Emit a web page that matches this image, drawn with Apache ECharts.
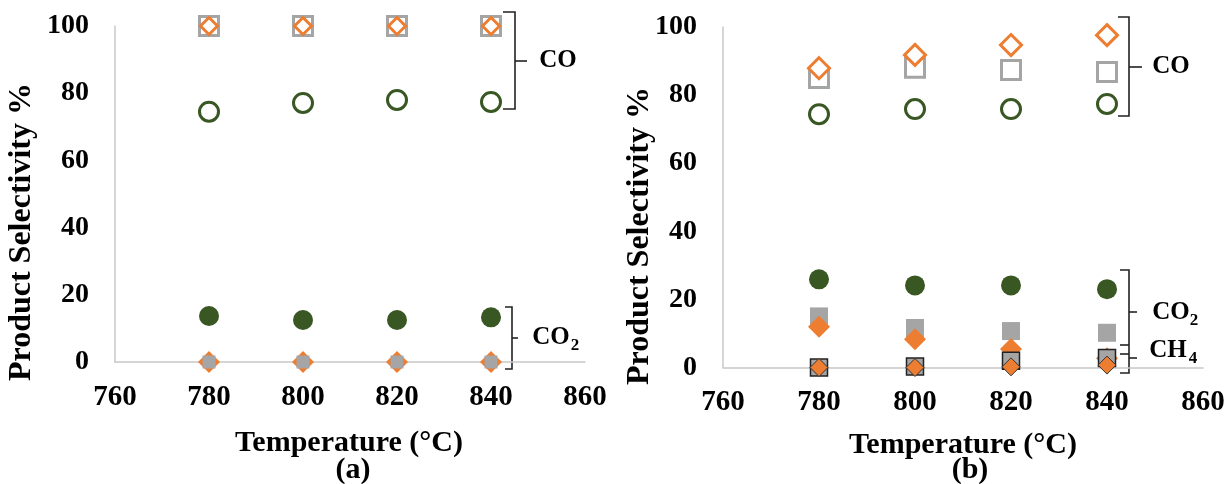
<!DOCTYPE html>
<html>
<head>
<meta charset="utf-8">
<script src="https://cdn.jsdelivr.net/npm/echarts@6/dist/echarts.min.js"></script>
<style>
html,body{margin:0;padding:0;background:#fff;}
#chart{width:1231px;height:484px;}
</style>
</head>
<body>
<div id="chart"></div>
<script>
// ---------- data ----------
var temps = [780, 800, 820, 840];
var xTicks = [760, 780, 800, 820, 840, 860];
var yTicks = [0, 20, 40, 60, 80, 100];

// panel (a)
var a_CO_square   = [100, 100, 100, 100];
var a_CO_diamond  = [100, 100, 100, 100];
var a_CO_circle   = [74.5, 77.1, 78.0, 77.4];
var a_CO2_circle  = [13.7, 12.5, 12.5, 13.3];
var a_CO2_diamond = [0, 0, 0, 0];
var a_CO2_square  = [0, 0, 0, 0];

// panel (b)
var b_CO_square   = [85.0, 88.0, 87.4, 86.8];
var b_CO_diamond  = [87.9, 91.8, 94.7, 97.6];
var b_CO_circle   = [74.4, 75.9, 75.9, 77.4];
var b_CO2_circle  = [25.9, 24.1, 24.1, 23.0];
var b_CO2_square  = [15.0, 11.6, 10.7, 10.2];
var b_CO2_diamond = [12.0, 8.3, 5.4, 2.7];
var b_CH4_square  = [0, 0.3, 2.0, 2.8];
var b_CH4_diamond = [0, 0, 0.2, 0.7];

// ---------- styling ----------
var ORANGE = '#ED7D31', GRAY = '#A5A5A5', GREEN = '#385723';
var FONT = '"Liberation Serif", "Times New Roman", serif';

function pts(vals) { return temps.map(function (t, i) { return [t, vals[i]]; }); }

function sc(idx, vals, symbol, size, fill, border, bw) {
  return {
    type: 'scatter', xAxisIndex: idx, yAxisIndex: idx,
    data: pts(vals), symbol: symbol, symbolSize: size,
    itemStyle: { color: fill, borderColor: border || fill, borderWidth: bw || 0, opacity: 1 },
    emphasis: { disabled: true }, silent: true, animation: false
  };
}

function xAxis(idx) {
  return {
    type: 'value', gridIndex: idx, min: xTicks[0], max: xTicks[xTicks.length - 1], interval: 20,
    axisLine: { show: true, onZero: false, lineStyle: { color: '#C8C8C8', width: 1.5 } },
    axisTick: { show: false }, splitLine: { show: false },
    axisLabel: { margin: 21, fontFamily: FONT, fontWeight: 'bold', fontSize: 29, color: '#000' }
  };
}
function yAxis(idx) {
  return {
    type: 'value', gridIndex: idx, min: yTicks[0], max: yTicks[yTicks.length - 1], interval: 20,
    axisLine: { show: true, lineStyle: { color: '#C8C8C8', width: 1.5 } },
    axisTick: { show: false }, splitLine: { show: false },
    axisLabel: { margin: 26, fontFamily: FONT, fontWeight: 'bold', fontSize: 28, color: '#000' }
  };
}

function txt(x, y, s, size, rot) {
  return {
    type: 'text', x: x, y: y, rotation: rot || 0, silent: true,
    style: { text: s, font: 'bold ' + size + 'px ' + FONT, fill: '#000',
             textAlign: 'center', textVerticalAlign: 'middle', align: 'center', verticalAlign: 'middle' }
  };
}
function line(points) {
  return { type: 'polyline', silent: true, shape: { points: points },
           style: { stroke: '#222', lineWidth: 1.6, fill: null } };
}

var graphics = [
  // axis titles
  txt(22, 232, 'Product Selectivity %', 32, Math.PI / 2),
  txt(640, 236, 'Product Selectivity %', 32, Math.PI / 2),
  txt(349, 443, 'Temperature (\u00B0C)', 30),
  txt(963, 445, 'Temperature (\u00B0C)', 30),
  txt(353, 470, '(a)', 30),
  txt(970, 470, '(b)', 30),
  // brackets (a)
  line([[503, 12], [515, 12], [515, 109], [503, 109]]),
  line([[515, 61], [527, 61]]),
  line([[505, 307], [512, 307], [512, 369], [505, 369]]),
  line([[512, 338], [518, 338]]),
  txt(558, 61, 'CO', 25),
  txt(551, 338, 'CO', 25),
  txt(575, 346, '2', 17),
  // brackets (b)
  line([[1118, 17], [1129, 17], [1129, 116], [1118, 116]]),
  line([[1129, 67], [1142, 67]]),
  line([[1120, 270], [1129, 270], [1129, 373], [1120, 373]]),
  line([[1129, 312], [1137, 312]]),
  line([[1120, 345], [1129, 345]]),
  line([[1120, 354], [1129, 354]]),
  line([[1129, 358], [1137, 358]]),
  txt(1171, 67, 'CO', 25),
  txt(1171, 313, 'CO', 25),
  txt(1194, 321, '2', 17),
  txt(1168, 351, 'CH', 25),
  txt(1193, 359, '4', 17)
];

var chart = echarts.init(document.getElementById('chart'), null, { renderer: 'canvas' });
chart.setOption({
  backgroundColor: '#fff',
  animation: false,
  grid: [
    { left: 115, top: 26, width: 470, height: 336 },
    { left: 723, top: 27, width: 480, height: 340.5 }
  ],
  xAxis: [xAxis(0), xAxis(1)],
  yAxis: [yAxis(0), yAxis(1)],
  series: [
    // (a)
    sc(0, a_CO_square, 'rect', 19, '#fff', GRAY, 3),
    sc(0, a_CO_diamond, 'diamond', 17, '#fff', ORANGE, 3),
    sc(0, a_CO_circle, 'circle', 19, '#fff', GREEN, 3),
    sc(0, a_CO2_circle, 'circle', 20, GREEN),
    sc(0, a_CO2_diamond, 'diamond', 22, ORANGE),
    sc(0, a_CO2_square, 'rect', 13, GRAY),
    // (b)
    sc(1, b_CO_square, 'rect', 19, '#fff', GRAY, 3),
    sc(1, b_CO_diamond, 'diamond', 21, '#fff', ORANGE, 3),
    sc(1, b_CO_circle, 'circle', 19, '#fff', GREEN, 3),
    sc(1, b_CO2_circle, 'circle', 20, GREEN),
    sc(1, b_CO2_square, 'rect', 18, GRAY),
    sc(1, b_CO2_diamond, 'diamond', 22, ORANGE),
    sc(1, b_CH4_square, 'rect', 17, GRAY, '#222', 1.5),
    sc(1, b_CH4_diamond, 'diamond', 18, ORANGE, '#333', 1)
  ],
  graphic: graphics
});
</script>
</body>
</html>
